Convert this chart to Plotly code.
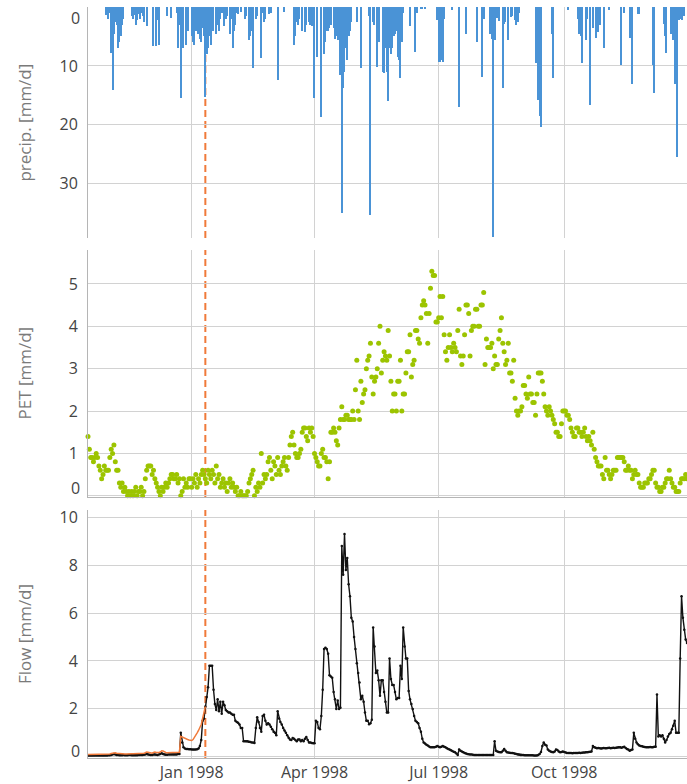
import pandas as pd
import plotly.graph_objects as go
from plotly.subplots import make_subplots

START_DATE = "1997-10-17"
END_DATE = "1998-12-30"
WARMUP_END = "1998-01-11"
X_TICKS = ["1998-01-01", "1998-04-01", "1998-07-01", "1998-10-01"]
X_TICK_LABELS = ["Jan 1998", "Apr 1998", "Jul 1998", "Oct 1998"]
PRECIP_TICKS = [10, 20, 30]
PET_TICKS = [0, 1, 2, 3, 4, 5]
FLOW_TICKS = [0, 2, 4, 6, 8, 10]

# daily precipitation [mm/d]
precip = [
    0, 0, 0, 0, 0, 0, 0, 0, 0, 0,
    0, 0, 0, 1.4, 0.8, 2.0, 1.0, 7.8, 14.0, 4.5,
    2.5, 3.0, 7.0, 6.0, 5.0, 3.0, 2.0, 0, 0, 0,
    0, 0, 1.5, 2.0, 1.3, 3.0, 2.2, 1.2, 2.0, 1.0,
    1.6, 2.5, 0, 3.3, 0, 0, 0, 0, 6.7, 0,
    6.7, 2.2, 6.5, 0, 0, 0, 0, 0, 1.6, 0,
    0, 1.8, 0, 0, 0, 1.0, 7.0, 3.0, 15.5, 0,
    7.0, 0, 6.5, 4.0, 0, 0, 5.0, 6.0, 6.5, 4.0,
    3.0, 4.5, 5.5, 6.0, 3.5, 5.0, 15.2, 8.0, 7.0, 5.0,
    6.5, 3.0, 4.0, 0, 4.5, 3.0, 4.0, 2.0, 1.0, 0,
    3.3, 2.0, 1.5, 0, 4.5, 2.0, 7.0, 4.0, 3.0, 1.0,
    1.2, 0, 0.8, 0, 0, 2.0, 1.5, 0, 5.6, 5.0,
    4.0, 10.4, 0, 2.0, 1.5, 0, 0, 8.7, 1.0, 2.5,
    2.0, 0, 0, 1.2, 1.0, 0, 0, 0, 0, 12.4,
    0, 0, 0, 0, 0.8, 0, 0, 0, 0, 0,
    0, 6.4, 5.0, 2.5, 3.0, 2.0, 0, 4.0, 0, 4.2,
    3.0, 0, 2.5, 3.0, 3.2, 2.0, 15.5, 0, 8.5, 0,
    0, 18.6, 0, 8.0, 6.0, 4.0, 4.0, 3.5, 3.0, 0,
    3.5, 5.5, 5.0, 5.6, 0, 11.5, 35.0, 13.8, 11.0, 7.0,
    9.0, 5.0, 4.0, 2.5, 0, 0, 0, 2.5, 0, 0,
    10.4, 0, 0, 0, 0, 0, 1.6, 35.3, 0, 2.5,
    3.0, 0, 10.1, 6.0, 0, 0, 11.0, 11.2, 7.0, 11.0,
    16.0, 7.0, 8.0, 7.0, 5.0, 4.5, 4.0, 8.5, 9.0, 12.0,
    6.0, 1.0, 0, 0, 0, 0, 3.2, 0, 0, 0,
    7.6, 1.0, 0, 0, 0.3, 0.3, 0, 0.3, 0, 0,
    0, 0, 0, 0, 0, 0, 2.2, 9.3, 9.3, 9.0,
    9.3, 2.0, 0, 0, 0, 0, 0, 0.5, 0, 0,
    0, 0, 17.0, 0, 0, 0, 0, 4.5, 0, 0,
    0, 0, 0, 0, 0, 5.9, 0, 0, 0, 11.8,
    2.0, 0, 0, 0, 0, 4.5, 5.5, 39.0, 5.6, 0,
    1.8, 2.3, 0, 0, 13.8, 2.8, 2.5, 0, 5.6, 0,
    1.7, 1.5, 0, 2.2, 3.0, 2.5, 1.0, 0, 0, 0,
    0, 0, 0, 0, 0, 0, 0, 0, 9.5, 1.5,
    15.8, 18.5, 20.3, 0, 0, 0, 0, 0, 0, 0,
    4.5, 12.0, 0, 0, 0, 0, 0, 0, 0, 0,
    0, 0, 0.5, 0, 0, 0, 0, 0, 0, 2.0,
    4.5, 5.0, 9.5, 0, 0, 5.6, 2.0, 0, 16.6, 0,
    3.5, 0, 5.2, 0, 4.2, 3.0, 0, 0, 7.0, 0,
    0, 0, 0.5, 0, 0, 0, 0, 0, 0, 0,
    0, 9.8, 0, 1.0, 0, 0, 0, 5.2, 0, 13.0,
    0, 0, 0, 1.2, 1.2, 0, 0, 0, 0, 0,
    0, 0, 0, 0, 9.8, 14.6, 0, 0, 0, 0,
    0, 0, 2.8, 5.0, 7.8, 0, 0, 4.5, 4.0, 5.6,
    13.0, 0, 25.4, 2.2, 2.0, 2.2, 1.6, 1.6, 0, 0,
]

# daily potential evapotranspiration [mm/d]
pet = [
    1.4, 1.1, 0.9, 0.9, 0.8, 0.9, 1.0, 0.9, 0.7, 0.6,
    0.4, 0.5, 0.7, 0.6, 0.6, 0.6, 0.9, 1.1, 1.0, 1.2,
    0.8, 0.6, 0.6, 0.3, 0.2, 0.3, 0.1, 0.2, 0.1, 0.0,
    0.1, 0.0, 0.1, 0.0, 0.1, 0.2, 0.0, 0.1, 0.1, 0.2,
    0.0, 0.1, 0.4, 0.6, 0.7, 0.7, 0.7, 0.5, 0.6, 0.4,
    0.3, 0.2, 0.1, 0.0, 0.2, 0.1, 0.2, 0.3, 0.2, 0.3,
    0.4, 0.5, 0.5, 0.4, 0.4, 0.5, 0.3, 0.4, 0.0, 0.1,
    0.4, 0.2, 0.3, 0.2, 0.4, 0.4, 0.2, 0.4, 0.3, 0.5,
    0.2, 0.4, 0.3, 0.5, 0.6, 0.5, 0.4, 0.3, 0.6, 0.5,
    0.4, 0.6, 0.5, 0.3, 0.7, 0.4, 0.5, 0.2, 0.3, 0.4,
    0.2, 0.3, 0.1, 0.3, 0.4, 0.2, 0.3, 0.2, 0.1, 0.2,
    0.0, 0.0, 0.1, 0.0, 0.0, 0.0, 0.0, 0.1, 0.3, 0.4,
    0.5, 0.6, 0.0, 0.2, 0.1, 0.3, 0.2, 1.0, 0.3, 0.5,
    0.4, 0.5, 0.8, 0.9, 0.6, 0.4, 0.8, 0.7, 0.5, 0.9,
    0.6, 0.5, 0.7, 0.8, 0.9, 0.7, 0.6, 0.9, 1.2, 1.4,
    1.5, 1.2, 1.0, 0.9, 0.9, 1.0, 1.1, 1.5, 1.6, 1.6,
    1.4, 1.3, 1.6, 1.5, 1.6, 1.4, 1.0, 0.9, 0.8, 0.7,
    0.7, 1.0, 1.1, 0.9, 0.9, 0.8, 0.4, 0.8, 1.5, 1.5,
    1.6, 1.5, 1.3, 1.2, 1.6, 1.8, 2.1, 1.8, 1.8, 1.9,
    1.9, 1.8, 1.8, 1.8, 2.0, 1.8, 2.5, 3.2, 2.0, 1.8,
    2.7, 2.2, 2.4, 2.5, 3.0, 3.2, 3.3, 3.6, 2.8, 2.4,
    2.7, 2.8, 3.0, 3.6, 4.0, 2.9, 3.2, 3.4, 3.3, 3.2,
    3.9, 3.3, 2.7, 2.0, 2.4, 2.4, 2.0, 2.7, 2.7, 3.2,
    2.0, 2.4, 2.4, 2.9, 3.4, 3.4, 3.8, 2.8, 3.1, 3.2,
    3.9, 3.9, 3.7, 3.6, 4.2, 4.5, 4.6, 4.5, 4.3, 3.6,
    4.3, 4.9, 5.3, 5.2, 5.2, 4.1, 4.1, 4.2, 4.7, 4.2,
    4.7, 3.8, 3.4, 3.2, 3.5, 3.8, 3.5, 3.4, 3.6, 3.5,
    3.4, 3.9, 4.4, 3.3, 3.1, 3.3, 3.8, 4.5, 4.5, 4.3,
    3.3, 3.9, 4.0, 4.0, 4.4, 4.4, 4.0, 4.0, 4.5, 4.5,
    4.8, 3.1, 3.7, 3.5, 3.5, 3.5, 3.6, 3.0, 3.3, 3.1,
    3.1, 3.7, 3.9, 4.2, 3.6, 3.4, 3.1, 3.2, 3.6, 2.9,
    2.9, 2.7, 3.2, 2.3, 2.0, 1.9, 2.0, 2.0, 2.1, 2.6,
    2.6, 2.4, 2.3, 2.8, 2.4, 2.4, 2.2, 2.2, 1.9, 2.4,
    2.9, 2.9, 2.9, 2.7, 2.4, 2.1, 2.0, 1.9, 2.1, 2.0,
    1.9, 1.8, 1.7, 1.5, 1.5, 1.4, 1.4, 1.7, 2.0, 2.0,
    2.0, 1.9, 1.9, 1.8, 1.6, 1.5, 1.4, 1.4, 1.6, 1.6,
    1.5, 1.5, 1.4, 1.5, 1.6, 1.4, 1.3, 1.4, 1.3, 1.2,
    1.5, 1.1, 0.9, 0.8, 0.7, 0.7, 0.7, 0.5, 0.4, 0.9,
    0.6, 0.6, 0.5, 0.4, 0.5, 0.6, 0.6, 0.6, 0.9, 0.9,
    0.9, 0.9, 0.9, 0.8, 0.6, 0.6, 0.7, 0.6, 0.6, 0.4,
    0.5, 0.6, 0.5, 0.5, 0.3, 0.2, 0.2, 0.2, 0.3, 0.3,
    0.3, 0.4, 0.4, 0.5, 0.6, 0.6, 0.3, 0.2, 0.2, 0.1,
    0.1, 0.2, 0.2, 0.3, 0.4, 0.4, 0.6, 0.4, 0.3, 0.2,
    0.2, 0.1, 0.1, 0.1, 0.3, 0.4, 0.4, 0.4, 0.5, 0.4,
]

# observed daily flow [mm/d]
flow_obs = [
    0.05, 0.05, 0.05, 0.05, 0.05, 0.05, 0.05, 0.05, 0.05, 0.05,
    0.05, 0.05, 0.05, 0.05, 0.05, 0.06, 0.06, 0.08, 0.1, 0.12,
    0.1, 0.08, 0.08, 0.07, 0.07, 0.07, 0.08, 0.07, 0.07, 0.07,
    0.08, 0.08, 0.07, 0.07, 0.07, 0.07, 0.07, 0.08, 0.08, 0.08,
    0.08, 0.09, 0.1, 0.12, 0.1, 0.09, 0.08, 0.08, 0.1, 0.1,
    0.09, 0.08, 0.1, 0.12, 0.15, 0.12, 0.1, 0.09, 0.09, 0.1,
    0.1, 0.1, 0.1, 0.1, 0.1, 0.1, 0.12, 0.12, 1.0, 0.6,
    0.4, 0.35, 0.33, 0.33, 0.32, 0.32, 0.3, 0.3, 0.3, 0.3,
    0.32, 0.35, 0.45, 0.7, 1.5, 1.6, 2.1, 2.5, 2.9, 3.8,
    3.8, 3.8, 2.8, 2.2, 1.95, 2.4, 1.9, 2.3, 1.8, 2.3,
    2.15, 1.95, 1.9, 1.85, 1.85, 1.8, 1.75, 1.75, 1.5, 1.45,
    1.42, 1.35, 1.2, 1.2, 0.65, 0.65, 0.65, 0.65, 0.63, 0.62,
    0.6, 0.6, 0.58, 1.2, 1.65, 1.45, 1.2, 1.05, 1.7, 1.75,
    1.5, 1.35, 1.4, 1.35, 1.25, 1.15, 1.05, 1.0, 0.9, 1.9,
    1.6, 1.45, 1.35, 1.2, 1.1, 1.0, 0.9, 0.8, 0.72, 0.7,
    0.78, 0.75, 0.7, 0.65, 0.72, 0.72, 0.65, 0.7, 0.65, 0.75,
    0.83, 0.7, 0.6, 0.6, 0.58, 0.57, 0.57, 1.5, 1.45, 1.2,
    1.15, 1.7, 2.8, 4.5, 4.55, 4.5, 4.3, 3.4, 3.35, 3.3,
    2.7, 2.4, 2.0, 2.35, 2.0, 2.05, 8.8, 7.6, 9.3, 7.8,
    8.3, 7.2, 6.7, 5.8, 5.65, 5.0, 4.5, 3.9, 3.5, 3.1,
    2.4, 2.55, 2.3, 1.85, 1.5, 1.5, 1.36, 1.4, 1.55, 5.4,
    4.6, 3.5, 3.6, 3.2, 2.55, 3.2, 3.2, 2.7, 2.3, 1.85,
    1.85, 4.1, 3.25, 3.0, 3.0, 2.7, 2.4, 2.45, 2.45, 3.8,
    3.25, 5.4, 4.6, 4.1, 4.1, 2.75, 2.4, 2.2, 2.0, 1.7,
    1.5, 1.45, 1.4, 1.2, 1.05, 0.75, 0.6, 0.55, 0.5, 0.47,
    0.43, 0.4, 0.4, 0.4, 0.4, 0.42, 0.45, 0.42, 0.4, 0.42,
    0.45, 0.42, 0.4, 0.36, 0.33, 0.3, 0.27, 0.24, 0.21, 0.19,
    0.14, 0.08, 0.3, 0.25, 0.22, 0.19, 0.16, 0.14, 0.12, 0.11,
    0.1, 0.1, 0.09, 0.08, 0.08, 0.08, 0.08, 0.08, 0.08, 0.08,
    0.08, 0.08, 0.08, 0.08, 0.08, 0.08, 0.08, 0.08, 0.65, 0.25,
    0.22, 0.2, 0.19, 0.19, 0.25, 0.33, 0.25, 0.19, 0.18, 0.17,
    0.16, 0.16, 0.15, 0.13, 0.12, 0.1, 0.09, 0.08, 0.08, 0.08,
    0.07, 0.07, 0.07, 0.06, 0.06, 0.06, 0.06, 0.05, 0.05, 0.05,
    0.08, 0.12, 0.2, 0.45, 0.6, 0.5, 0.47, 0.3, 0.25, 0.22,
    0.2, 0.19, 0.22, 0.3, 0.28, 0.22, 0.19, 0.2, 0.22, 0.2,
    0.18, 0.16, 0.16, 0.16, 0.16, 0.15, 0.16, 0.16, 0.16, 0.16,
    0.17, 0.16, 0.17, 0.18, 0.18, 0.19, 0.19, 0.2, 0.21, 0.22,
    0.45, 0.4, 0.38, 0.36, 0.37, 0.36, 0.35, 0.36, 0.37, 0.36,
    0.36, 0.37, 0.38, 0.36, 0.37, 0.38, 0.37, 0.38, 0.39, 0.4,
    0.4, 0.38, 0.4, 0.42, 0.37, 0.33, 0.3, 0.25, 0.28, 0.3,
    1.0, 0.75, 0.6, 0.52, 0.47, 0.45, 0.44, 0.42, 0.41, 0.4,
    0.4, 0.4, 0.41, 0.4, 0.4, 0.42, 0.42, 2.6, 0.85, 0.9,
    0.85, 0.9, 0.75, 0.6, 0.7, 0.85, 0.95, 1.0, 1.15, 1.3,
    1.5, 1.0, 1.0, 1.0, 4.1, 6.7, 5.8, 5.3, 4.9, 4.75,
]

# simulated flow during the warm-up period [mm/d]
flow_warmup = [
    0.1, 0.1, 0.1, 0.1, 0.1, 0.1, 0.1, 0.1, 0.1, 0.1,
    0.1, 0.1, 0.1, 0.1, 0.1, 0.11, 0.12, 0.14, 0.16, 0.18,
    0.17, 0.15, 0.14, 0.13, 0.12, 0.12, 0.12, 0.12, 0.12, 0.13,
    0.13, 0.13, 0.13, 0.13, 0.13, 0.13, 0.14, 0.15, 0.16, 0.16,
    0.15, 0.15, 0.17, 0.2, 0.19, 0.17, 0.16, 0.15, 0.18, 0.2,
    0.18, 0.17, 0.18, 0.2, 0.25, 0.24, 0.2, 0.18, 0.17, 0.18,
    0.18, 0.18, 0.18, 0.18, 0.18, 0.18, 0.18, 0.19, 0.85, 0.82,
    0.8, 0.75, 0.75, 0.72, 0.7, 0.7, 0.68, 0.72, 0.8, 0.9,
    1.0, 1.1, 1.2, 1.35, 1.6, 1.9, 2.1,
]

dates = pd.date_range(START_DATE, END_DATE, freq="D")

FONT = "Open Sans"
TICK_COLOR = "#444444"
TITLE_COLOR = "#7a7a7a"
GRID = "#d2d2d2"
AXIS_LINE = "#b5b5b5"
BLUE = "#4a93d6"
GREEN = "#9cc400"
ORANGE = "#f07a3a"

fig = make_subplots(rows=3, cols=1, shared_xaxes=True)

fig.add_trace(go.Bar(x=dates, y=precip, marker_color=BLUE, marker_line_width=0,
                     width=0.8 * 86400000), row=1, col=1)
fig.add_trace(go.Scatter(x=dates, y=pet, mode="markers",
                         marker=dict(color=GREEN, size=5), cliponaxis=False), row=2, col=1)
fig.add_trace(go.Scatter(x=dates, y=flow_obs, mode="lines+markers",
                         line=dict(color="#111111", width=1.4),
                         marker=dict(color="#111111", size=2.5)), row=3, col=1)
fig.add_trace(go.Scatter(x=dates[:len(flow_warmup)], y=flow_warmup, mode="lines",
                         line=dict(color=ORANGE, width=1.5)), row=3, col=1)

xcommon = dict(range=[START_DATE, END_DATE], tickvals=X_TICKS, ticktext=X_TICK_LABELS,
               showgrid=True, gridcolor=GRID, gridwidth=1, zeroline=False,
               linecolor=AXIS_LINE, linewidth=1, ticks="",
               tickfont=dict(family=FONT, size=16, color=TICK_COLOR))
fig.update_xaxes(**xcommon)
fig.update_xaxes(showline=False, row=1, col=1)
fig.update_xaxes(showline=True, row=2, col=1)
fig.update_xaxes(showline=True, row=3, col=1)

ycommon = dict(showgrid=True, gridcolor=GRID, gridwidth=1, zeroline=False,
               showline=True, linecolor=AXIS_LINE, linewidth=1, ticks="",
               ticklabelstandoff=6,
               tickfont=dict(family=FONT, size=16, color=TICK_COLOR))
fig.update_yaxes(**ycommon)
fig.update_yaxes(range=[39.2, 0], tickvals=PRECIP_TICKS,
                 domain=[0.6924, 1.0], row=1, col=1)
fig.update_yaxes(range=[-0.03, 5.8], tickvals=PET_TICKS,
                 ticktext=[""] + [str(v) for v in PET_TICKS[1:]],
                 domain=[0.3475, 0.6764], row=2, col=1)
fig.update_yaxes(range=[-0.05, 10.3], tickvals=FLOW_TICKS,
                 ticktext=[""] + [str(v) for v in FLOW_TICKS[1:]],
                 domain=[0.0, 0.3302], row=3, col=1)

# warm-up end marker in every panel
for xr, yr in [("x", "y domain"), ("x2", "y2 domain"), ("x3", "y3 domain")]:
    fig.add_shape(type="line", xref=xr, yref=yr, x0=WARMUP_END, x1=WARMUP_END,
                  y0=0, y1=1, line=dict(color=ORANGE, width=2, dash="7px,4px"),
                  layer="below")

# axis titles
for yr, txt in [("y domain", "precip. [mm/d]"), ("y2 domain", "PET [mm/d]"),
                ("y3 domain", "Flow [mm/d]")]:
    fig.add_annotation(text=txt, xref="paper", x=-0.1068, yref=yr, y=0.5,
                       textangle=-90, showarrow=False, xanchor="center", yanchor="middle",
                       font=dict(family=FONT, size=17, color=TITLE_COLOR))

# "0" labels nudged inside the plotting area
for yr, shift in [("y", -11), ("y2", 8), ("y3", 6)]:
    fig.add_annotation(text="0", xref="paper", x=0, xanchor="right", xshift=-6,
                       yref=yr, y=0, yanchor="middle", yshift=shift, showarrow=False,
                       font=dict(family=FONT, size=16, color=TICK_COLOR))

fig.update_layout(width=687, height=784, margin=dict(l=88, r=0, t=7, b=26),
                  paper_bgcolor="white", plot_bgcolor="white", showlegend=False,
                  bargap=0, font=dict(family=FONT))

fig.write_html("out.html")
